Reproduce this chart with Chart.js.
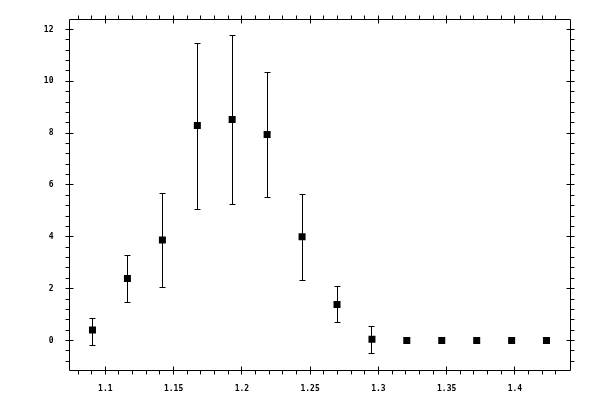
<!DOCTYPE html>
<html>
<head>
<meta charset="utf-8">
<script src="https://cdn.jsdelivr.net/npm/chart.js@4.4.0/dist/chart.umd.min.js"></script>
<style>
html,body{margin:0;padding:0;background:#fff;}
canvas{display:block;}
</style>
</head>
<body>
<canvas id="c" width="600" height="400"></canvas>
<script>
// ---- data ----
const xValues   = [1.0906, 1.1162, 1.1418, 1.1674, 1.1929, 1.2185, 1.2441, 1.2697, 1.2953, 1.3208, 1.3464, 1.3720, 1.3976, 1.4231];
const yValues   = [0.40, 2.39, 3.88, 8.30, 8.53, 7.95, 4.00, 1.39, 0.05, 0, 0, 0, 0, 0];
const yErrHigh  = [0.87, 3.28, 5.70, 11.49, 11.77, 10.37, 5.64, 2.12, 0.55, null, null, null, null, null];
const yErrLow   = [-0.16, 1.48, 2.08, 5.08, 5.28, 5.55, 2.35, 0.70, -0.49, null, null, null, null, null];

const xTicks      = [1.1, 1.15, 1.2, 1.25, 1.3, 1.35, 1.4];
const xTickLabels = ['1.1', '1.15', '1.2', '1.25', '1.3', '1.35', '1.4'];
const yTicks      = [0, 2, 4, 6, 8, 10, 12];
const yTickLabels = ['0', '2', '4', '6', '8', '10', '12'];
const xRange = [1.07377, 1.4407];
const yRange = [-1.158, 12.386];
const xMinorStep = 0.01;
const yMinorStep = 0.4;

const points = xValues.map((x, i) => ({ x: x, y: yValues[i] }));

const errorBarPlugin = {
  id: 'errorBars',
  beforeDatasetsDraw(chart) {
    const ctx = chart.ctx, xs = chart.scales.x, ys = chart.scales.y;
    ctx.save();
    ctx.strokeStyle = '#000';
    ctx.lineWidth = 1;
    for (let i = 0; i < xValues.length; i++) {
      if (yErrHigh[i] === null) continue;
      const px = Math.floor(xs.getPixelForValue(xValues[i])) + 0.5;
      const top = Math.round(ys.getPixelForValue(yErrHigh[i])) + 0.5;
      const bot = Math.round(ys.getPixelForValue(yErrLow[i])) + 0.5;
      ctx.beginPath();
      ctx.moveTo(px, top); ctx.lineTo(px, bot);
      ctx.moveTo(px - 3, top); ctx.lineTo(px + 3, top);
      ctx.moveTo(px - 3, bot); ctx.lineTo(px + 3, bot);
      ctx.stroke();
    }
    ctx.restore();
  }
};

const framePlugin = {
  id: 'frame',
  afterDraw(chart) {
    const ctx = chart.ctx, a = chart.chartArea, xs = chart.scales.x, ys = chart.scales.y;
    ctx.save();
    ctx.strokeStyle = '#000';
    ctx.lineWidth = 1;
    ctx.beginPath();
    ctx.rect(a.left, a.top, a.right - a.left, a.bottom - a.top);
    ctx.stroke();
    ctx.beginPath();
    xTicks.forEach(v => {
      const p = Math.floor(xs.getPixelForValue(v)) + 0.5;
      ctx.moveTo(p, a.bottom - 4); ctx.lineTo(p, a.bottom + 4);
      ctx.moveTo(p, a.top - 4); ctx.lineTo(p, a.top + 4);
    });
    for (let k = Math.ceil(xRange[0] / xMinorStep); k * xMinorStep < xRange[1]; k++) {
      const v = k * xMinorStep;
      if (xTicks.some(t => Math.abs(t - v) < 1e-6)) continue;
      const p = Math.floor(xs.getPixelForValue(v)) + 0.5;
      if (p <= a.left + 1 || p >= a.right - 1) continue;
      ctx.moveTo(p, a.bottom); ctx.lineTo(p, a.bottom + 4);
      ctx.moveTo(p, a.top); ctx.lineTo(p, a.top - 4);
    }
    yTicks.forEach(v => {
      const p = Math.floor(ys.getPixelForValue(v)) + 0.5;
      ctx.moveTo(a.left - 4, p); ctx.lineTo(a.left + 4, p);
      ctx.moveTo(a.right - 4, p); ctx.lineTo(a.right + 4, p);
    });
    for (let k = Math.ceil(yRange[0] / yMinorStep); k * yMinorStep < yRange[1]; k++) {
      const v = k * yMinorStep;
      if (yTicks.some(t => Math.abs(t - v) < 1e-6)) continue;
      const p = Math.floor(ys.getPixelForValue(v)) + 0.5;
      if (p <= a.top + 1 || p >= a.bottom - 1) continue;
      ctx.moveTo(a.left, p); ctx.lineTo(a.left - 4, p);
      ctx.moveTo(a.right, p); ctx.lineTo(a.right + 4, p);
    }
    ctx.stroke();
    ctx.restore();
  }
};

const tickFont = { family: 'DejaVu Sans Mono', size: 8, weight: 'bold' };

new Chart(document.getElementById('c'), {
  type: 'scatter',
  data: {
    datasets: [{
      data: points,
      pointStyle: 'rect',
      pointRadius: 4.95,
      pointHoverRadius: 4.95,
      backgroundColor: '#000',
      borderColor: '#000',
      borderWidth: 0,
      showLine: false
    }]
  },
  options: {
    responsive: false,
    animation: false,
    devicePixelRatio: 1,
    layout: { padding: { left: 0, top: 19.5, right: 29.5, bottom: 0 } },
    plugins: { legend: { display: false }, tooltip: { enabled: false } },
    events: [],
    scales: {
      x: {
        type: 'linear',
        min: xRange[0],
        max: xRange[1],
        grid: { display: false },
        border: { display: false },
        afterBuildTicks: s => { s.ticks = xTicks.map(v => ({ value: v })); },
        afterFit: s => { s.height = 29.5; },
        ticks: {
          color: '#000',
          font: tickFont,
          padding: 6,
          maxRotation: 0,
          autoSkip: false,
          callback: (v, i) => xTickLabels[i]
        }
      },
      y: {
        type: 'linear',
        min: yRange[0],
        max: yRange[1],
        grid: { display: false },
        border: { display: false },
        afterBuildTicks: s => { s.ticks = yTicks.map(v => ({ value: v })); },
        afterFit: s => { s.width = 69.5; },
        ticks: {
          color: '#000',
          font: tickFont,
          padding: 8,
          autoSkip: false,
          callback: (v, i) => yTickLabels[i]
        }
      }
    }
  },
  plugins: [errorBarPlugin, framePlugin]
});
</script>
</body>
</html>
